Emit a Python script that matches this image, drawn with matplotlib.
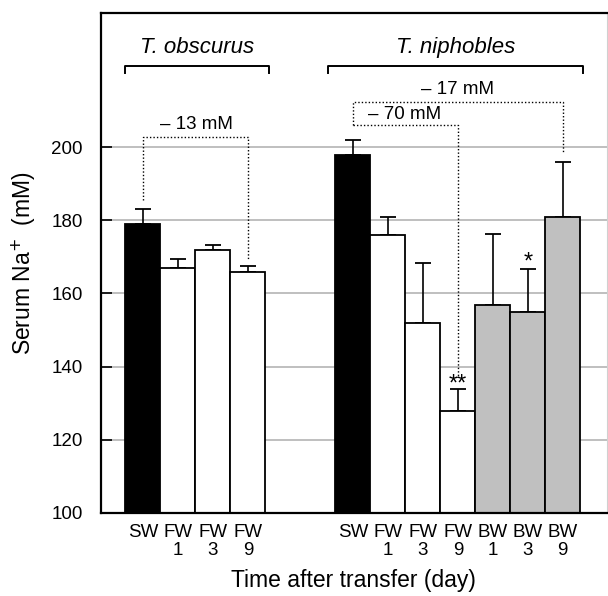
import matplotlib
matplotlib.use("Agg")
import matplotlib.pyplot as plt

plt.rcParams['font.family'] = ['Liberation Sans', 'DejaVu Sans']

# Data
labels_obs = ["SW", "FW\n1", "FW\n3", "FW\n9"]
labels_nip = ["SW", "FW\n1", "FW\n3", "FW\n9", "BW\n1", "BW\n3", "BW\n9"]
pos_obs = [0, 1, 2, 3]
pos_nip = [6, 7, 8, 9, 10, 11, 12]
mean_obs = [179.0, 167.0, 171.8, 165.9]
err_obs = [4.0, 2.5, 1.4, 1.6]
mean_nip = [197.9, 176.0, 151.9, 128.0, 156.9, 154.8, 180.9]
err_nip = [3.9, 4.9, 16.5, 5.9, 19.3, 12.0, 15.1]
colors_obs = ["black", "white", "white", "white"]
colors_nip = ["black", "white", "white", "white", "#c0c0c0", "#c0c0c0", "#c0c0c0"]
yticks = [100, 120, 140, 160, 180, 200]

fig = plt.figure(figsize=(6.08, 5.96), dpi=100)
ax = fig.add_axes([0.1661, 0.1393, 0.832, 0.8387])

ax.set_xlim(-1.2, 13.26)
ax.set_ylim(100, 236.6)

for y in yticks[1:]:
    ax.axhline(y, color="#b4b4b4", lw=1.2, zorder=0)

pos = pos_obs + pos_nip
means = mean_obs + mean_nip
errs = err_obs + err_nip
cols = colors_obs + colors_nip
ax.bar(pos, [m - 100 for m in means], bottom=100, width=1.0, color=cols,
       edgecolor="black", linewidth=1.3, zorder=2)
ax.errorbar(pos, means, yerr=[[0] * len(errs), errs], fmt="none",
            ecolor="black", elinewidth=1.2, capsize=6, capthick=1.3, zorder=1)

ax.set_xticks(pos)
ax.set_xticklabels(labels_obs + labels_nip, fontsize=13.5, linespacing=1.1,
                   va="top")
ax.tick_params(axis="x", length=0, pad=8)
ax.set_yticks(yticks)
ax.tick_params(axis="y", direction="in", length=8, width=1.2, labelsize=13.5, pad=13)
ax.set_xlabel("Time after transfer (day)", fontsize=16.5, labelpad=7)
ax.set_ylabel("Serum Na$^{+}$  (mM)", fontsize=16.5, labelpad=10)

for s in ["left", "bottom", "top"]:
    ax.spines[s].set_linewidth(1.6)
ax.spines["right"].set_color("#d0d0d0")
ax.spines["right"].set_linewidth(0.8)

# species brackets
def bracket(x0, x1, ytop, ybot, text, ytext):
    ax.plot([x0, x0, x1, x1], [ybot, ytop, ytop, ybot], color="black", lw=1.4,
            clip_on=False)
    ax.text((x0 + x1) / 2, ytext, text, ha="center", va="center",
            fontsize=16, style="italic")

bracket(-0.51, 3.6, 222.2, 220.2, "T. obscurus", 227.2)
bracket(5.29, 12.57, 222.2, 220.2, "T. niphobles", 227.2)

# dotted comparison lines
dot = dict(color="black", lw=1.0, ls=(0, (1, 1.5)))
ax.plot([0, 0, 3, 3], [185.5, 202.8, 202.8, 169.0], **dot)
ax.text(1.54, 206.1, "– 13 mM", ha="center", va="center", fontsize=13.5)
ax.plot([6, 9, 9], [206.0, 206.0, 137.3], **dot)
ax.text(7.49, 208.8, "– 70 mM", ha="center", va="center", fontsize=13.5)
ax.plot([6, 6, 12, 12], [206.0, 212.3, 212.3, 198.4], **dot)
ax.text(9.0, 215.8, "– 17 mM", ha="center", va="center", fontsize=13.5)

ax.text(9, 135.2, "**", ha="center", va="center", fontsize=17)
ax.text(11, 168.4, "*", ha="center", va="center", fontsize=17)

fig.savefig("out.png", dpi=100)
